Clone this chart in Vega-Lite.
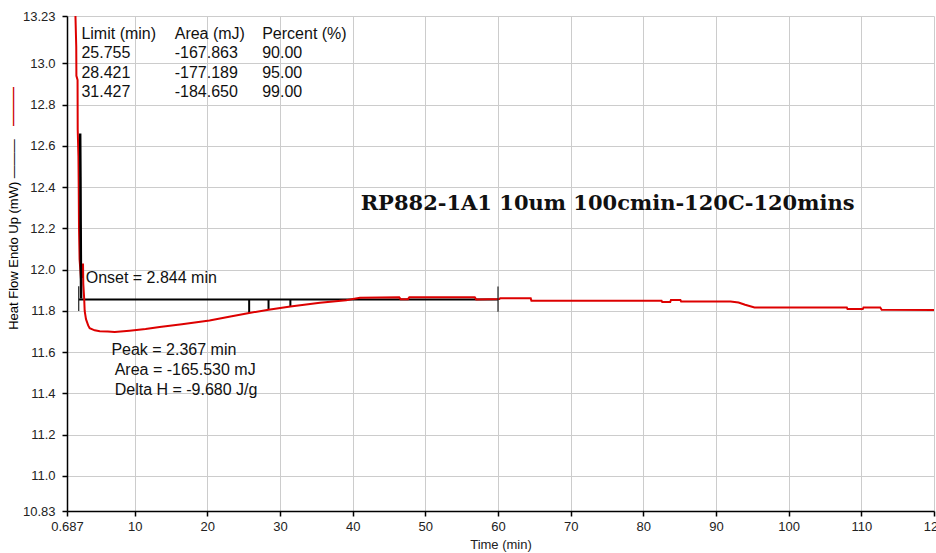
{
  "$schema": "https://vega.github.io/schema/vega-lite/v6.json",
  "width": 867,
  "height": 495,
  "autosize": {"type": "none"},
  "padding": {"left": 67, "top": 16, "right": 2, "bottom": 42},
  "background": "white",
  "config": {"view": {"stroke": null}, "font": "Liberation Sans"},
  "title": {"text": "———", "orient": "left", "anchor": "end", "color": "#cc0000", "font": "Liberation Sans", "fontSize": 13, "fontWeight": "bold", "dx": -77, "dy": 17},
  "datasets": {
    "red": [
      {"i": 1, "t": 1.70, "v": 13.50}, {"i": 2, "t": 1.85, "v": 13.23}, {"i": 3, "t": 1.96, "v": 13.08},
      {"i": 4, "t": 1.98, "v": 12.94}, {"i": 5, "t": 2.14, "v": 12.92}, {"i": 6, "t": 2.16, "v": 12.68},
      {"i": 7, "t": 2.26, "v": 12.55}, {"i": 8, "t": 2.30, "v": 12.40}, {"i": 9, "t": 2.34, "v": 12.20},
      {"i": 10, "t": 2.42, "v": 12.05}, {"i": 11, "t": 2.60, "v": 11.96}, {"i": 12, "t": 2.86, "v": 11.97},
      {"i": 13, "t": 2.89, "v": 12.03}, {"i": 14, "t": 2.93, "v": 11.93}, {"i": 15, "t": 3.05, "v": 11.86},
      {"i": 16, "t": 3.12, "v": 11.80}, {"i": 17, "t": 3.30, "v": 11.76}, {"i": 18, "t": 3.60, "v": 11.73},
      {"i": 19, "t": 3.81, "v": 11.716}, {"i": 20, "t": 4.50, "v": 11.706}, {"i": 21, "t": 5.20, "v": 11.702},
      {"i": 22, "t": 6.30, "v": 11.700}, {"i": 23, "t": 7.25, "v": 11.698}, {"i": 24, "t": 9.30, "v": 11.704},
      {"i": 25, "t": 11.5, "v": 11.712}, {"i": 26, "t": 13.44, "v": 11.722}, {"i": 27, "t": 16.5, "v": 11.736},
      {"i": 28, "t": 20.3, "v": 11.754}, {"i": 29, "t": 23.0, "v": 11.772}, {"i": 30, "t": 25.76, "v": 11.790},
      {"i": 31, "t": 28.42, "v": 11.806}, {"i": 32, "t": 31.43, "v": 11.822}, {"i": 33, "t": 35.5, "v": 11.840},
      {"i": 34, "t": 39.1, "v": 11.852}, {"i": 35, "t": 41.0, "v": 11.864}, {"i": 36, "t": 46.4, "v": 11.866},
      {"i": 37, "t": 46.6, "v": 11.857}, {"i": 38, "t": 47.6, "v": 11.857}, {"i": 39, "t": 47.8, "v": 11.866},
      {"i": 40, "t": 56.8, "v": 11.866}, {"i": 41, "t": 57.0, "v": 11.856}, {"i": 42, "t": 60.2, "v": 11.858},
      {"i": 43, "t": 60.3, "v": 11.861}, {"i": 44, "t": 64.5, "v": 11.861}, {"i": 45, "t": 64.6, "v": 11.850},
      {"i": 46, "t": 82.5, "v": 11.850}, {"i": 47, "t": 82.6, "v": 11.843}, {"i": 48, "t": 83.7, "v": 11.843},
      {"i": 49, "t": 83.8, "v": 11.853}, {"i": 50, "t": 85.1, "v": 11.853}, {"i": 51, "t": 85.2, "v": 11.846},
      {"i": 52, "t": 92.0, "v": 11.846}, {"i": 53, "t": 93.1, "v": 11.841}, {"i": 54, "t": 94.0, "v": 11.830},
      {"i": 55, "t": 95.3, "v": 11.817}, {"i": 56, "t": 108.0, "v": 11.817}, {"i": 57, "t": 108.1, "v": 11.809},
      {"i": 58, "t": 110.2, "v": 11.809}, {"i": 59, "t": 110.3, "v": 11.817}, {"i": 60, "t": 112.6, "v": 11.817},
      {"i": 61, "t": 112.8, "v": 11.806}, {"i": 62, "t": 120.0, "v": 11.805}
    ],
    "black": [
      {"i": 1, "t": 2.50, "v": 12.66}, {"i": 2, "t": 2.54, "v": 12.45}, {"i": 3, "t": 2.57, "v": 12.22},
      {"i": 4, "t": 2.60, "v": 12.00}, {"i": 5, "t": 2.62, "v": 11.92}, {"i": 6, "t": 2.63, "v": 11.86}
    ],
    "segments": [
      {"kind": "baseline", "t": 2.3, "t2": 60.0, "v": 11.856, "v2": 11.856},
      {"kind": "drop", "t": 25.755, "t2": 25.755, "v": 11.856, "v2": 11.790},
      {"kind": "drop", "t": 28.421, "t2": 28.421, "v": 11.856, "v2": 11.806},
      {"kind": "drop", "t": 31.427, "t2": 31.427, "v": 11.856, "v2": 11.822},
      {"kind": "limit", "t": 2.3, "t2": 2.3, "v": 11.80, "v2": 11.92},
      {"kind": "limit", "t": 60.0, "t2": 60.0, "v": 11.796, "v2": 11.918}
    ],
    "notes": [
      {"label": "Limit (min)", "t": 2.669, "v": 13.1185},
      {"label": "Area (mJ)", "t": 15.51, "v": 13.1185},
      {"label": "Percent (%)", "t": 27.55, "v": 13.1185},
      {"label": "25.755", "t": 2.669, "v": 13.024},
      {"label": "-167.863", "t": 15.51, "v": 13.024},
      {"label": "90.00", "t": 27.55, "v": 13.024},
      {"label": "28.421", "t": 2.669, "v": 12.929},
      {"label": "-177.189", "t": 15.51, "v": 12.929},
      {"label": "95.00", "t": 27.55, "v": 12.929},
      {"label": "31.427", "t": 2.669, "v": 12.835},
      {"label": "-184.650", "t": 15.51, "v": 12.835},
      {"label": "99.00", "t": 27.55, "v": 12.835},
      {"label": "Onset = 2.844 min", "t": 3.26, "v": 11.937},
      {"label": "Peak = 2.367 min", "t": 6.797, "v": 11.586},
      {"label": "Area = -165.530 mJ", "t": 7.251, "v": 11.489},
      {"label": "Delta H = -9.680 J/g", "t": 7.251, "v": 11.392}
    ],
    "sample": [
      {"label": "RP882-1A1 10um 100cmin-120C-120mins", "t": 41.1, "v": 12.289}
    ]
  },
  "encoding": {
    "x": {
      "field": "t", "type": "quantitative",
      "scale": {"domain": [0.687, 120], "nice": false, "zero": false},
      "axis": {
        "title": "Time (min)",
        "values": [0.687, 10, 20, 30, 40, 50, 60, 70, 80, 90, 100, 110, 120],
        "labelExpr": "datum.value < 1 ? '0.687' : format(datum.value, 'd')",
        "labelFlush": false, "labelOverlap": false, "labelBound": false,
        "grid": true, "gridColor": "#cccccc", "gridWidth": 1,
        "domainColor": "#000000", "domainWidth": 1.5,
        "tickColor": "#000000", "tickSize": 5, "tickWidth": 1.5,
        "labelFont": "Liberation Sans", "labelFontSize": 13, "labelColor": "#222222", "labelPadding": 4,
        "titleFont": "Liberation Sans", "titleFontSize": 13, "titleFontWeight": "normal", "titleColor": "#222222", "titlePadding": 5
      }
    },
    "y": {
      "field": "v", "type": "quantitative",
      "scale": {"domain": [10.83, 13.23], "nice": false, "zero": false},
      "axis": {
        "title": "Heat Flow Endo Up (mW) ———",
        "values": [10.83, 11.0, 11.2, 11.4, 11.6, 11.8, 12.0, 12.2, 12.4, 12.6, 12.8, 13.0, 13.23],
        "labelExpr": "abs(datum.value - 13.23) < 0.001 ? '13.23' : (abs(datum.value - 10.83) < 0.001 ? '10.83' : format(datum.value, '.1f'))",
        "labelOverlap": false, "labelBound": false, "labelFlush": false,
        "grid": true, "gridColor": "#cccccc", "gridWidth": 1,
        "domainColor": "#000000", "domainWidth": 1.5,
        "tickColor": "#000000", "tickSize": 5, "tickWidth": 1.5,
        "labelFont": "Liberation Sans", "labelFontSize": 13, "labelColor": "#222222", "labelPadding": 7,
        "titleFont": "Liberation Sans", "titleFontSize": 13, "titleFontWeight": "normal", "titleColor": "#000000", "titlePadding": 2,
        "titleY": 218
      }
    }
  },
  "layer": [
    {
      "data": {"name": "segments"},
      "transform": [{"filter": "datum.kind != 'limit'"}],
      "mark": {"type": "rule", "color": "#000000", "strokeWidth": 2},
      "encoding": {"x2": {"field": "t2"}, "y2": {"field": "v2"}}
    },
    {
      "data": {"name": "red"},
      "mark": {"type": "line", "color": "#dd0000", "strokeWidth": 2, "clip": true},
      "encoding": {"order": {"field": "i", "type": "quantitative"}}
    },
    {
      "data": {"name": "black"},
      "mark": {"type": "line", "color": "#000000", "strokeWidth": 2.5, "clip": true},
      "encoding": {"order": {"field": "i", "type": "quantitative"}}
    },
    {
      "data": {"name": "segments"},
      "transform": [{"filter": "datum.kind == 'limit'"}],
      "mark": {"type": "rule", "color": "#222222", "strokeWidth": 1.2},
      "encoding": {"x2": {"field": "t2"}, "y2": {"field": "v2"}}
    },
    {
      "data": {"name": "notes"},
      "mark": {"type": "text", "align": "left", "baseline": "alphabetic", "font": "Liberation Sans", "fontSize": 16, "color": "#111111"},
      "encoding": {"text": {"field": "label", "type": "nominal"}}
    },
    {
      "data": {"name": "sample"},
      "mark": {"type": "text", "align": "left", "baseline": "alphabetic", "font": "DejaVu Serif", "fontWeight": "bold", "fontSize": 21, "color": "#111111"},
      "encoding": {"text": {"field": "label", "type": "nominal"}}
    }
  ]
}
